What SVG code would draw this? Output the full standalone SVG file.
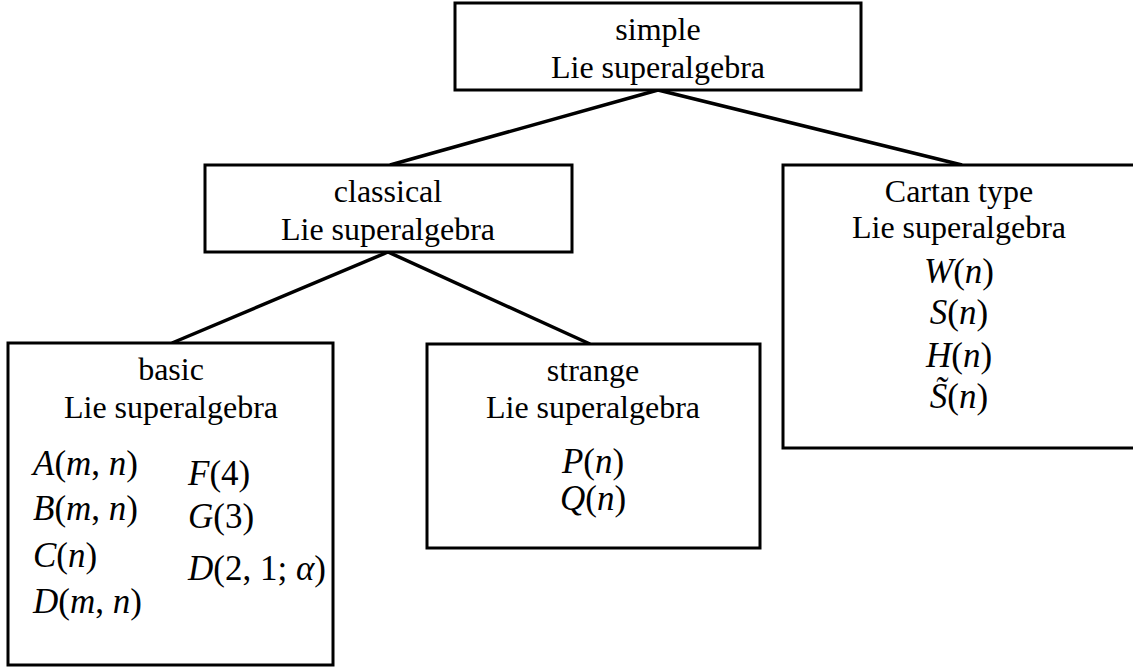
<svg xmlns="http://www.w3.org/2000/svg" width="1133" height="668" viewBox="0 0 1133 668">
<style>
.box{fill:#fff;stroke:#000;stroke-width:3}
.t{font-family:"Liberation Serif","Times New Roman",serif;font-size:32px;fill:#000}
.m{font-family:"Liberation Serif","Times New Roman",serif;font-size:35px;fill:#000}
.c{text-anchor:middle}
.i{font-style:italic}
.edge{stroke:#000;stroke-width:3.5;fill:none}
</style>
<rect width="1133" height="668" fill="#fff"/>
<g id="connectors">
<line class="edge" x1="658" y1="90" x2="390" y2="165"/>
<line class="edge" x1="658" y1="90" x2="962" y2="165"/>
<line class="edge" x1="388" y1="252" x2="172" y2="343"/>
<line class="edge" x1="388" y1="252" x2="590" y2="344"/>
</g>
<g id="simple">
<rect class="box" x="455" y="3" width="406" height="87"/>
<text class="t c" x="658" y="40">simple</text>
<text class="t c" x="658" y="78">Lie superalgebra</text>
</g>
<g id="classical">
<rect class="box" x="205" y="165" width="367" height="87"/>
<text class="t c" x="388" y="202">classical</text>
<text class="t c" x="388" y="240">Lie superalgebra</text>
</g>
<g id="cartan">
<rect class="box" x="783" y="165" width="352" height="283"/>
<text class="t c" x="959" y="202">Cartan type</text>
<text class="t c" x="959" y="238">Lie superalgebra</text>
<text class="m c" x="959" y="283"><tspan class="i">W</tspan>(<tspan class="i">n</tspan>)</text>
<text class="m c" x="959" y="324"><tspan class="i">S</tspan>(<tspan class="i">n</tspan>)</text>
<text class="m c" x="959" y="367"><tspan class="i">H</tspan>(<tspan class="i">n</tspan>)</text>
<text class="m c" x="959" y="408"><tspan class="i">S&#x303;</tspan>(<tspan class="i">n</tspan>)</text>
</g>
<g id="basic">
<rect class="box" x="8" y="343" width="325" height="322"/>
<text class="t c" x="171" y="380">basic</text>
<text class="t c" x="171" y="418">Lie superalgebra</text>
<text class="m" x="33" y="475"><tspan class="i">A</tspan>(<tspan class="i">m</tspan>, <tspan class="i">n</tspan>)</text>
<text class="m" x="33" y="520"><tspan class="i">B</tspan>(<tspan class="i">m</tspan>, <tspan class="i">n</tspan>)</text>
<text class="m" x="33" y="567"><tspan class="i">C</tspan>(<tspan class="i">n</tspan>)</text>
<text class="m" x="33" y="613"><tspan class="i">D</tspan>(<tspan class="i">m</tspan>, <tspan class="i">n</tspan>)</text>
<text class="m" x="188" y="485"><tspan class="i">F</tspan>(4)</text>
<text class="m" x="188" y="528"><tspan class="i">G</tspan>(3)</text>
<text class="m" x="188" y="580"><tspan class="i">D</tspan>(2, 1; <tspan class="i">α</tspan>)</text>
</g>
<g id="strange">
<rect class="box" x="427" y="344" width="333" height="204"/>
<text class="t c" x="593" y="381">strange</text>
<text class="t c" x="593" y="418">Lie superalgebra</text>
<text class="m c" x="593" y="473"><tspan class="i">P</tspan>(<tspan class="i">n</tspan>)</text>
<text class="m c" x="593" y="510"><tspan class="i">Q</tspan>(<tspan class="i">n</tspan>)</text>
</g>
</svg>
